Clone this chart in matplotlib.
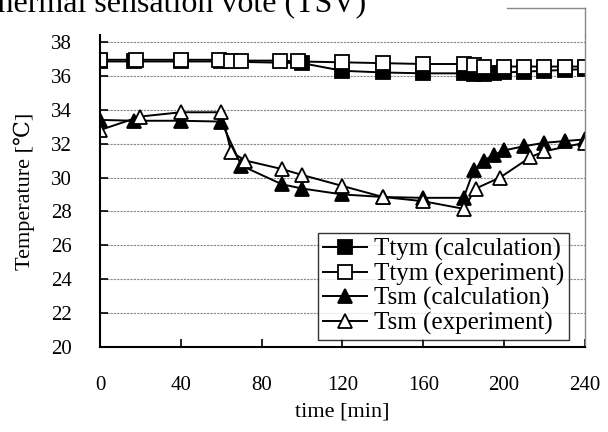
import numpy as np
import matplotlib
matplotlib.use("Agg")
import matplotlib.pyplot as plt
from matplotlib.lines import Line2D

plt.rcParams['font.family'] = ['Liberation Serif', 'DejaVu Serif']

# Ttym (calculation)
t_ttym_calc = [0, 17, 40, 60, 100, 120, 140, 160, 180, 185, 190, 195, 200, 210, 220, 230, 240]
ttym_calc = [36.85, 36.85, 36.85, 36.85, 36.75, 36.3, 36.2, 36.15, 36.15, 36.1, 36.1, 36.15, 36.2, 36.25, 36.3, 36.35, 36.4]
# Ttym (experiment)
t_ttym_exp = [0, 18, 40, 59, 65, 70, 89, 98, 120, 140, 160, 180, 185, 190, 200, 210, 220, 230, 240]
ttym_exp = [36.95, 36.95, 36.95, 36.95, 36.9, 36.9, 36.9, 36.85, 36.8, 36.75, 36.7, 36.7, 36.65, 36.55, 36.55, 36.55, 36.55, 36.55, 36.55]
# Tsm (calculation)
t_tsm_calc = [0, 17, 40, 60, 70, 90, 100, 120, 140, 160, 180, 185, 190, 195, 200, 210, 220, 230, 240]
tsm_calc = [33.4, 33.35, 33.35, 33.3, 30.7, 29.6, 29.35, 29.0, 28.85, 28.8, 28.8, 30.45, 31.0, 31.35, 31.6, 31.85, 32.05, 32.15, 32.25]
# Tsm (experiment)
t_tsm_exp = [0, 20, 40, 60, 65, 72, 90, 100, 120, 140, 160, 180, 186, 198, 213, 220, 240]
tsm_exp = [32.8, 33.6, 33.85, 33.85, 31.5, 31.0, 30.5, 30.15, 29.5, 28.85, 28.6, 28.15, 29.35, 30.0, 31.2, 31.55, 32.05]

yticks = [20, 22, 24, 26, 28, 30, 32, 34, 36, 38]
xticks = [0, 40, 80, 120, 160, 200, 240]

fig = plt.figure(figsize=(6.08, 4.32), dpi=100)
ax = fig.add_axes([0.1645, 0.197, 0.7975, 0.7215])

for y in yticks[1:]:
    ax.axhline(y, color='#888888', lw=0.8, ls=(0, (2, 1)), zorder=0)

ax.plot(t_ttym_calc, ttym_calc, '-s', color='black', mfc='black', mec='black',
        ms=9.5, mew=1.3, lw=1.4, label='Ttym (calculation)')
ax.plot(t_ttym_exp, ttym_exp, '-s', color='black', mfc='white', mec='black',
        ms=9.5, mew=1.3, lw=1.4, label='Ttym (experiment)')
ax.plot(t_tsm_calc, tsm_calc, '-^', color='black', mfc='black', mec='black',
        ms=10.5, mew=1.3, lw=1.4, label='Tsm (calculation)')
ax.plot(t_tsm_exp, tsm_exp, '-^', color='black', mfc='white', mec='black',
        ms=10.5, mew=1.3, lw=1.4, label='Tsm (experiment)')

ax.set_xlim(0, 240)
ax.set_ylim(20, 38.4)
ax.set_xticks(xticks)
ax.set_yticks(yticks)
ax.tick_params(axis='both', direction='in', labelsize=15, width=1.2, length=6)
ax.tick_params(axis='x', pad=21)
ax.tick_params(axis='y', pad=20)

ax.spines['top'].set_visible(False)
ax.spines['right'].set_color('#888888')
ax.spines['right'].set_linewidth(1.0)
ax.spines['left'].set_linewidth(1.5)
ax.spines['bottom'].set_linewidth(1.5)

ax.set_xlabel('time [min]', fontsize=16, labelpad=5)
ax.set_ylabel('Temperature [\u2103]', fontsize=16, labelpad=12)

leg = ax.legend(loc='lower right', bbox_to_anchor=(0.968, 0.022), fontsize=18,
                frameon=True, fancybox=False, edgecolor='black',
                handlelength=1.75, handletextpad=0.3, borderpad=0.2,
                labelspacing=0.06, borderaxespad=0)
leg.get_frame().set_linewidth(1.0)

# piece of the neighbouring figure frame and its caption
fig.text(366 / 608, 1 - 11 / 432, 'Thermal sensation vote (TSV)', fontsize=23,
         va='baseline', ha='right')
fig.add_artist(Line2D([507 / 608, 585 / 608], [1 - 8 / 432, 1 - 8 / 432],
                      color='#888888', lw=1.0))
fig.add_artist(Line2D([585 / 608, 585 / 608], [1 - 8 / 432, 0.92],
                      color='#888888', lw=1.0))

fig.savefig('out.png', dpi=100)
